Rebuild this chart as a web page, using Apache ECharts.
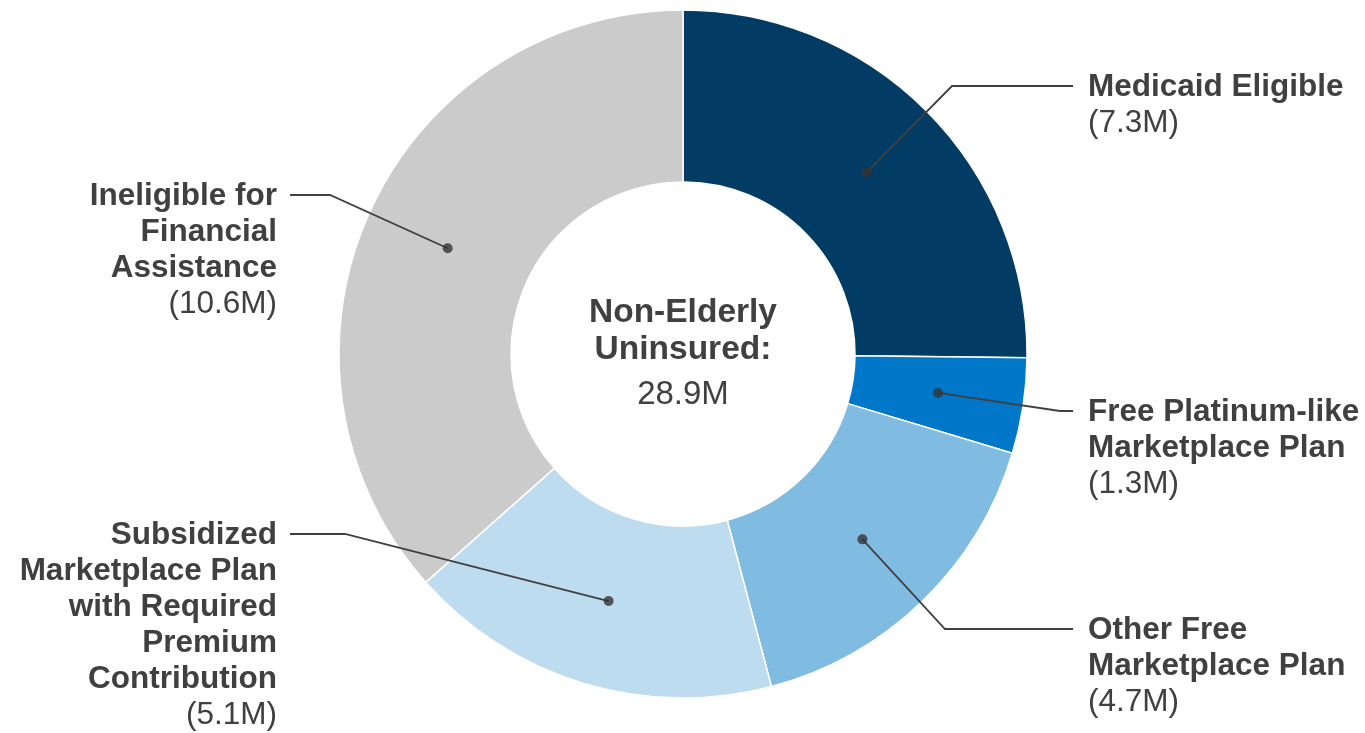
<!DOCTYPE html>
<html>
<head>
<meta charset="utf-8">
<style>
  html, body { margin: 0; padding: 0; background: #ffffff; }
  #chart { width: 1365px; height: 733px; }
</style>
<script src="https://cdn.jsdelivr.net/npm/echarts@6/dist/echarts.min.js"></script>
</head>
<body>
<div id="chart"></div>
<script>
// Coverage groups of the non-elderly uninsured, millions of people
const groups = [
  'Medicaid Eligible',
  'Free Platinum-like\nMarketplace Plan',
  'Other Free\nMarketplace Plan',
  'Subsidized\nMarketplace Plan\nwith Required\nPremium\nContribution',
  'Ineligible for\nFinancial\nAssistance'
];
const millions = [7.3, 1.3, 4.7, 5.1, 10.6];
const centerTitle = ['Non-Elderly', 'Uninsured:'];
const centerTotal = '28.9M';

// Slice colours, in the order of the groups
const sliceColors = ['#023b64', '#0077c8', '#80bbe2', '#bedcf0', '#cbcbcb'];

// Geometry of the ring
const CX = 683, CY = 354, R_OUT = 344, R_IN = 172, R_DOT = 258;
const FONT = "'Liberation Sans', Arial, Helvetica, sans-serif";
const INK = '#404040';
const LINE_H = 36;

// Where each callout sits: side, text anchor x, first line centre y,
// and the x where the leader bends into its horizontal run
const callouts = [
  { side: 'right', x: 1088, y: 87,  bendX: 952,  endX: 1073 },
  { side: 'right', x: 1088, y: 412, bendX: 1060, endX: 1073 },
  { side: 'right', x: 1088, y: 630, bendX: 945,  endX: 1073 },
  { side: 'left',  x: 277,  y: 535, bendX: 345,  endX: 290 },
  { side: 'left',  x: 277,  y: 196, bendX: 330,  endX: 290 }
];

const total = millions.reduce((a, b) => a + b, 0);

const sliceData = groups.map((name, i) => ({
  name: name,
  value: millions[i],
  itemStyle: { color: sliceColors[i] }
}));

// Mid-point of each slice along the ring, for the leader dots
let running = 0;
const dotData = millions.map(v => {
  const mid = running + v / 2;
  running += v;
  return [R_DOT, mid];
});

function calloutText(name, value) {
  const lines = name.split('\n').map(l => '{n|' + l + '}');
  lines.push('{v|(' + value.toFixed(1) + 'M)}');
  return lines.join('\n');
}

const chart = echarts.init(document.getElementById('chart'), null, { renderer: 'canvas' });

chart.setOption({
  backgroundColor: '#ffffff',
  animation: false,
  polar: { center: [CX, CY], radius: R_OUT },
  angleAxis: {
    type: 'value', min: 0, max: total, startAngle: 90, clockwise: true,
    show: false, splitLine: { show: false }, axisLine: { show: false }
  },
  radiusAxis: {
    type: 'value', min: 0, max: R_OUT, show: false,
    splitLine: { show: false }, axisLine: { show: false }
  },
  graphic: [{
    type: 'text',
    x: CX,
    y: CY - 59.5,
    silent: true,
    style: {
      text: '{t|' + centerTitle[0] + '}\n{t|' + centerTitle[1] + '}\n{v|' + centerTotal + '}',
      align: 'center',
      verticalAlign: 'top',
      rich: {
        t: { fontFamily: FONT, fontSize: 33.5, fontWeight: 'bold', lineHeight: 37, fill: INK, align: 'center' },
        v: { fontFamily: FONT, fontSize: 33, lineHeight: 53, fill: INK, align: 'center' }
      }
    }
  }],
  series: [
    {
      // The ring itself
      type: 'pie',
      center: [CX, CY],
      radius: [R_IN, R_OUT],
      startAngle: 90,
      clockwise: true,
      silent: true,
      label: { show: false },
      labelLine: { show: false },
      itemStyle: { borderColor: '#ffffff', borderWidth: 1.5 },
      data: sliceData,
      z: 1
    },
    {
      // Invisible twin whose outer edge runs through the leader dots;
      // it carries the callout labels and their leader lines
      type: 'pie',
      center: [CX, CY],
      radius: [0, R_DOT],
      startAngle: 90,
      clockwise: true,
      silent: true,
      avoidLabelOverlap: false,
      itemStyle: { color: 'rgba(0,0,0,0)', borderWidth: 0 },
      data: groups.map((name, i) => ({ name: name, value: millions[i] })),
      label: {
        show: true,
        position: 'outside',
        formatter: p => calloutText(p.name, p.value),
        rich: {
          n: { fontFamily: FONT, fontSize: 31.5, fontWeight: 'bold', lineHeight: LINE_H, color: INK },
          v: { fontFamily: FONT, fontSize: 31.5, lineHeight: LINE_H, color: INK }
        }
      },
      labelLine: {
        show: true,
        length: 20,
        length2: 20,
        lineStyle: { color: INK, width: 1.8 }
      },
      labelLayout: function (params) {
        const c = callouts[params.dataIndex];
        const start = params.labelLinePoints ? params.labelLinePoints[0] : [CX, CY];
        return {
          x: c.x,
          y: c.y - LINE_H / 2,
          align: c.side === 'right' ? 'left' : 'right',
          verticalAlign: 'top',
          labelLinePoints: [start, [c.bendX, c.y - 1], [c.endX, c.y - 1]]
        };
      },
      z: 2
    },
    {
      // Leader-line dots at the middle of each slice
      type: 'scatter',
      coordinateSystem: 'polar',
      silent: true,
      symbol: 'circle',
      symbolSize: 10,
      itemStyle: { color: '#333333' },
      data: dotData,
      z: 5
    }
  ]
});
</script>
</body>
</html>
